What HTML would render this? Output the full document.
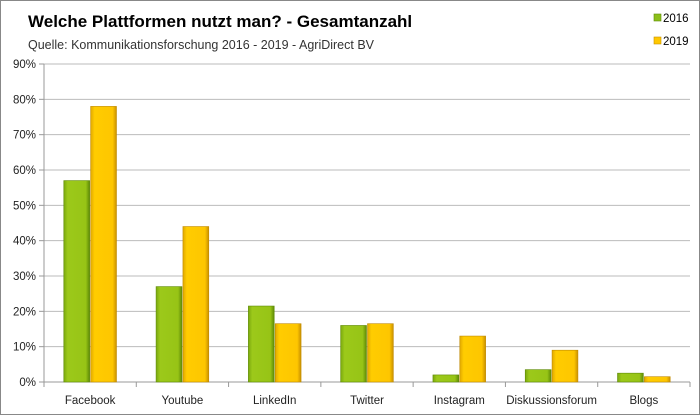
<!DOCTYPE html>
<html><head><meta charset="utf-8">
<style>
html,body{margin:0;padding:0;background:#fff;}
svg{display:block;font-family:"Liberation Sans",sans-serif;}
</style></head>
<body>
<svg id="chart" width="700" height="415" viewBox="0 0 700 415" xmlns="http://www.w3.org/2000/svg">
<defs>
<linearGradient id="gG" x1="0" x2="1" y1="0" y2="0">
<stop offset="0" stop-color="#7aa80e"/><stop offset="0.15" stop-color="#9cc91a"/><stop offset="0.85" stop-color="#97c416"/><stop offset="1" stop-color="#5e8a06"/>
</linearGradient>
<linearGradient id="gY" x1="0" x2="1" y1="0" y2="0">
<stop offset="0" stop-color="#e0a800"/><stop offset="0.15" stop-color="#ffcc00"/><stop offset="0.85" stop-color="#fec600"/><stop offset="1" stop-color="#c99000"/>
</linearGradient>
</defs>
<rect x="0.5" y="0.5" width="699" height="414" fill="#fff" stroke="#888"/>
<text x="28" y="27" font-size="17" font-weight="bold" fill="#000">Welche Plattformen nutzt man? - Gesamtanzahl</text>
<text x="28" y="49" font-size="12.5" fill="#333">Quelle: Kommunikationsforschung 2016 - 2019 - AgriDirect BV</text>
<g>
<g><rect x="654" y="14" width="7" height="7" fill="#8cbf1a" stroke="#5e8a06" stroke-width="0.6"/><text x="663" y="22" font-size="11.5">2016</text></g>
<g><rect x="654" y="37" width="7" height="7" fill="#ffc800" stroke="#c99000" stroke-width="0.6"/><text x="663" y="45" font-size="11.5">2019</text></g>
</g>
<g id="grid"></g><g id="bars"></g><g id="axes"></g>
</svg>
<script>
const categories=["Facebook","Youtube","LinkedIn","Twitter","Instagram","Diskussionsforum","Blogs"];
const values2016=[57,27,21.5,16,2,3.5,2.5];
const values2019=[78,44,16.5,16.5,13,9,1.5];
const yTicks=[0,10,20,30,40,50,60,70,80,90];
const NS="http://www.w3.org/2000/svg";
const x0=44,x1=690,y0=382,yTop=64,yMax=90;
const yScale=v=>y0-(v/yMax)*(y0-yTop);
const band=(x1-x0)/categories.length;
const xScale=i=>x0+band*i;
function mk(tag,attrs,parent){const e=document.createElementNS(NS,tag);for(const k in attrs)e.setAttribute(k,attrs[k]);parent.appendChild(e);return e;}
const grid=document.getElementById('grid'),bars=document.getElementById('bars'),axes=document.getElementById('axes');
yTicks.forEach(t=>{
  const y=yScale(t);
  const l=mk('line',{x1:x0,x2:x1,y1:y,y2:y,stroke:t===0?'#999':'#bbb','stroke-width':1},grid);
  
  
  const tk=mk('line',{x1:x0-5,x2:x0,y1:y,y2:y,stroke:'#999'},axes);
  
  
  const tx=mk('text',{x:x0-8,y:y+4,'font-size':11.5,'text-anchor':'end',fill:'#222'},axes);
  tx.textContent=t+'%';
  
  
});
const ax=mk('line',{x1:x0,x2:x0,y1:yTop,y2:y0,stroke:'#999'},axes);


const bw=band*0.28;
categories.forEach((c,i)=>{
  const cx=xScale(i)+band/2;
  const tk=mk('line',{x1:xScale(i),x2:xScale(i),y1:y0,y2:y0+5,stroke:'#999'},axes);
  
  
  [[values2016[i],'url(#gG)','#5e8a06',cx-bw-0.5,'2016'],[values2019[i],'url(#gY)','#c08a00',cx+0.5,'2019']].forEach(([v,f,s,x,yr])=>{
    const y=yScale(v);
    const r=mk('rect',{x:x,y:y,width:bw,height:y0-y,fill:f,stroke:s,'stroke-width':0.6},bars);
    
    
  });
  const tx=mk('text',{x:cx,y:404,'font-size':11.5,'text-anchor':'middle',fill:'#222'},axes);
  tx.textContent=c;
  
  
});
const tk=mk('line',{x1:x1,x2:x1,y1:y0,y2:y0+5,stroke:'#999'},axes);


</script>
</body></html>
